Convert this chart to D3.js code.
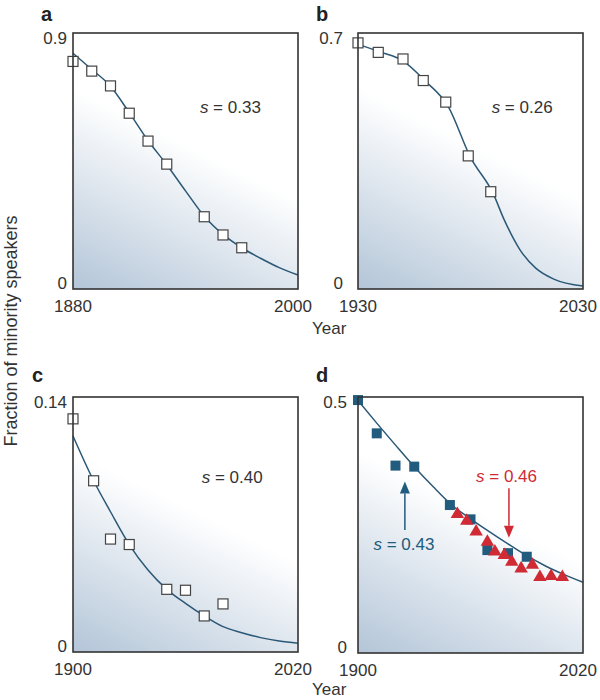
<!DOCTYPE html>
<html><head><meta charset="utf-8">
<script src="https://cdn.jsdelivr.net/npm/d3@7"></script>
<style>body{margin:0;background:#fff}</style>
</head><body>
<svg id="chart" width="600" height="700"></svg>
<script>
// ---------- DATA ----------
const panelLabels = ["a", "b", "c", "d"];
const yAxisTitle = "Fraction of minority speakers";
const xAxisTitle = "Year";

const aXTicks = [1880, 2000];
const aYTicks = [0, 0.9];
const aYears  = [1880, 1890, 1900, 1910, 1920, 1930, 1950, 1960, 1970];
const aValues = [0.800, 0.766, 0.714, 0.618, 0.520, 0.439, 0.254, 0.190, 0.145];
const aCurveYears  = [1880, 1890, 1900, 1910, 1920, 1930, 1940, 1950, 1960, 1970, 1980, 1990, 2000];
const aCurveValues = [0.829, 0.772, 0.713, 0.620, 0.522, 0.437, 0.345, 0.256, 0.192, 0.145, 0.108, 0.075, 0.049];
const aS = "0.33";

const bXTicks = [1930, 2030];
const bYTicks = [0, 0.7];
const bYears  = [1930, 1939, 1950, 1959, 1969, 1979, 1989];
const bValues = [0.673, 0.647, 0.629, 0.570, 0.511, 0.364, 0.266];
const bCurveYears  = [1930, 1940, 1950, 1960, 1970, 1980, 1990, 1995, 2002, 2009, 2017, 2030];
const bCurveValues = [0.669, 0.648, 0.624, 0.568, 0.500, 0.360, 0.262, 0.189, 0.107, 0.057, 0.027, 0.008];
const bS = "0.26";

const cXTicks = [1900, 2020];
const cYTicks = [0, 0.14];
const cYears  = [1900, 1911, 1920, 1930, 1950, 1960, 1970, 1980];
const cValues = [0.128, 0.094, 0.062, 0.059, 0.0344, 0.0339, 0.0198, 0.0264];
const cCurveYears  = [1900, 1911, 1920, 1930, 1940, 1950, 1960, 1970, 1980, 1990, 2000, 2010, 2020];
const cCurveValues = [0.1186, 0.094, 0.077, 0.059, 0.045, 0.0344, 0.0267, 0.0198, 0.0139, 0.0106, 0.0079, 0.0060, 0.0048];
const cS = "0.40";

const dXTicks = [1900, 2020];
const dYTicks = [0, 0.5];
const dBlueYears  = [1900, 1910, 1920, 1930, 1949, 1960, 1969, 1980, 1990];
const dBlueValues = [0.494, 0.429, 0.366, 0.364, 0.289, 0.261, 0.201, 0.195, 0.188];
const dRedYears   = [1953, 1958, 1963, 1969, 1973, 1978, 1982, 1987, 1993, 1997, 2003, 2009];
const dRedValues  = [0.271, 0.258, 0.237, 0.217, 0.198, 0.191, 0.178, 0.165, 0.172, 0.148, 0.150, 0.148];
const dCurveYears  = [1900, 1910, 1920, 1930, 1940, 1950, 1960, 1970, 1980, 1990, 2000, 2010, 2020];
const dCurveValues = [0.493, 0.449, 0.406, 0.364, 0.325, 0.289, 0.262, 0.237, 0.213, 0.190, 0.170, 0.153, 0.138];
const dBlueS = "0.43";
const dRedS  = "0.46";

// ---------- LAYOUT / STYLE ----------
const FONT = "'Liberation Sans', Arial, Helvetica, sans-serif";
const TEXT = "#333";
const LINE = "#2b5876";
const BLUE = "#215b7d";
const RED = "#d02a35";

const layout = {
  a: {x0: 73,  y0: 33,  x1: 298, y1: 289, lab: [41, 21],  sPos: [0.564, 0.3125], yGap: 6},
  b: {x0: 358, y0: 33,  x1: 583, y1: 289, lab: [316, 21], sPos: [0.594, 0.3125], yGap: 15},
  c: {x0: 73,  y0: 397, x1: 298, y1: 652, lab: [32, 382], sPos: [0.572, 0.338],  yGap: 6},
  d: {x0: 358, y0: 397, x1: 583, y1: 653, lab: [316, 382], yGap: 11}
};

const panels = [
  {key: "a", xt: aXTicks, yt: aYTicks, pts: [{x: aYears, y: aValues, kind: "open"}], cx: aCurveYears, cy: aCurveValues, s: aS},
  {key: "b", xt: bXTicks, yt: bYTicks, pts: [{x: bYears, y: bValues, kind: "open"}], cx: bCurveYears, cy: bCurveValues, s: bS},
  {key: "c", xt: cXTicks, yt: cYTicks, pts: [{x: cYears, y: cValues, kind: "open"}], cx: cCurveYears, cy: cCurveValues, s: cS},
  {key: "d", xt: dXTicks, yt: dYTicks, pts: [{x: dBlueYears, y: dBlueValues, kind: "blue"}, {x: dRedYears, y: dRedValues, kind: "red"}], cx: dCurveYears, cy: dCurveValues}
];

const svg = d3.select("#chart");
const defs = svg.append("defs");
const grad = defs.append("linearGradient").attr("id", "bg")
  .attr("x1", 0).attr("y1", 1).attr("x2", 0.29).attr("y2", 0.34);
grad.append("stop").attr("offset", 0).attr("stop-color", "#b3c5d8");
grad.append("stop").attr("offset", 1).attr("stop-color", "#ffffff");

panels.forEach((p, i) => {
  const L = layout[p.key];
  const x = d3.scaleLinear().domain([p.xt[0], p.xt[1]]).range([L.x0, L.x1]);
  const y = d3.scaleLinear().domain([p.yt[0], p.yt[1]]).range([L.y1, L.y0]);
  const g = svg.append("g");

  g.append("rect").attr("x", L.x0).attr("y", L.y0).attr("width", L.x1 - L.x0).attr("height", L.y1 - L.y0)
    .attr("fill", "url(#bg)");

  g.append("text").attr("x", L.lab[0]).attr("y", L.lab[1]).text(panelLabels[i])
    .attr("font-family", FONT).attr("font-weight", "bold").attr("font-size", 20).attr("fill", "#222");

  const curvePts = p.cx.map((v, k) => [v, p.cy[k]]);
  g.append("path").datum(curvePts)
    .attr("d", d3.line().x(d => x(d[0])).y(d => y(d[1])).curve(d3.curveMonotoneX))
    .attr("fill", "none").attr("stroke", LINE).attr("stroke-width", 1.5);

  p.pts.forEach(series => {
    const data = series.x.map((v, k) => [v, series.y[k]]);
    if (series.kind === "open") {
      g.selectAll(null).data(data).enter().append("rect")
        .attr("x", d => x(d[0]) - 5).attr("y", d => y(d[1]) - 5)
        .attr("width", 10).attr("height", 10)
        .attr("fill", "#fff").attr("stroke", "#444").attr("stroke-width", 1.2);
    } else if (series.kind === "blue") {
      g.selectAll(null).data(data).enter().append("rect")
        .attr("x", d => x(d[0]) - 5).attr("y", d => y(d[1]) - 5)
        .attr("width", 10).attr("height", 10).attr("fill", BLUE);
    } else {
      g.selectAll(null).data(data).enter().append("path")
        .attr("d", d3.symbol().type(d3.symbolTriangle).size(78))
        .attr("transform", d => `translate(${x(d[0])},${y(d[1])})`)
        .attr("fill", RED);
    }
  });

  g.append("rect").attr("x", L.x0).attr("y", L.y0).attr("width", L.x1 - L.x0).attr("height", L.y1 - L.y0)
    .attr("fill", "none").attr("stroke", "#333").attr("stroke-width", 1.6);

  p.xt.forEach((t, k) => {
    g.append("text").attr("x", x(t) + (k === 1 ? -5 : 0)).attr("y", L.y1 + 23)
      .attr("text-anchor", "middle").text(t)
      .attr("font-family", FONT).attr("font-size", 17).attr("fill", TEXT);
  });
  p.yt.forEach((t, k) => {
    g.append("text").attr("x", L.x0 - L.yGap).attr("y", y(t) + (k === 1 ? 11 : 0))
      .attr("text-anchor", "end").text(String(t))
      .attr("font-family", FONT).attr("font-size", 17).attr("fill", TEXT);
  });

  if (p.s) {
    const t = g.append("text")
      .attr("x", L.x0 + L.sPos[0] * (L.x1 - L.x0)).attr("y", L.y0 + L.sPos[1] * (L.y1 - L.y0))
      .attr("font-family", FONT).attr("font-size", 17).attr("fill", TEXT);
    t.append("tspan").attr("font-style", "italic").text("s");
    t.append("tspan").text(" = " + p.s);
  }

  if (p.key === "b" || p.key === "d") {
    g.append("text").attr("x", 312).attr("y", L.y1 + (p.key === "b" ? 45 : 42)).text(xAxisTitle)
      .attr("font-family", FONT).attr("font-size", 17).attr("fill", TEXT);
  }

  if (p.key === "d") {
    const ann = [
      {color: BLUE, label: dBlueS, tx: 1924.5, ty: 0.201, ax: 1925, from: 0.240, to: 0.335},
      {color: RED,  label: dRedS,  tx: 1979.2, ty: 0.3346, ax: 1980.5, from: 0.322, to: 0.225}
    ];
    ann.forEach(a => {
      const t = g.append("text").attr("x", x(a.tx)).attr("y", y(a.ty)).attr("text-anchor", "middle")
        .attr("font-family", FONT).attr("font-size", 17).attr("fill", a.color);
      t.append("tspan").attr("font-style", "italic").text("s");
      t.append("tspan").text(" = " + a.label);
      const ax = x(a.ax), y0 = y(a.from), y1 = y(a.to);
      const dir = y1 < y0 ? -1 : 1;
      const headLen = 12, headW = 5;
      g.append("line").attr("x1", ax).attr("x2", ax).attr("y1", y0).attr("y2", y1 - dir * headLen)
        .attr("stroke", a.color).attr("stroke-width", 1.5);
      g.append("path")
        .attr("d", `M${ax},${y1} L${ax - headW},${y1 - dir * headLen} L${ax + headW},${y1 - dir * headLen} Z`)
        .attr("fill", a.color);
    });
  }
});

svg.append("text").attr("transform", "translate(17,331) rotate(-90)")
  .attr("text-anchor", "middle").text(yAxisTitle)
  .attr("font-family", FONT).attr("font-size", 18).attr("fill", TEXT);
</script>
</body></html>
